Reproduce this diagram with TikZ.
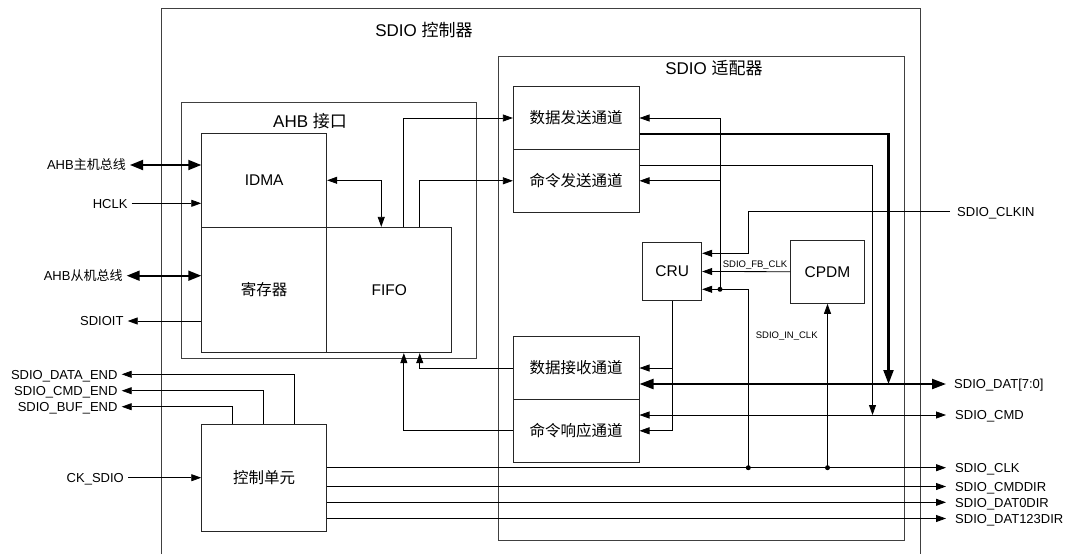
\documentclass[tikz,border=0pt]{standalone}
\usepackage{fontspec}
\setmainfont{Liberation Sans}
\newfontfamily\cjk{Noto Sans CJK SC}
\usetikzlibrary{arrows.meta,calc}
\begin{document}
\begin{tikzpicture}[x=1pt,y=-1pt,
  frame/.style={draw=black!75, line width=0.9pt},
  box/.style={draw=black!85, line width=0.9pt, inner sep=0pt, font=\fontsize{15.5}{18}\selectfont},
  titlefont/.style={font=\fontsize{17}{20}\selectfont, inner sep=0pt},
  lbl/.style={font=\fontsize{13}{15}\selectfont, text height=9.4pt, text depth=0pt, inner ysep=0pt, inner xsep=4pt, anchor=east},
  rlbl/.style={font=\fontsize{13}{15}\selectfont, text height=9.4pt, text depth=0pt, inner ysep=0pt, inner xsep=9pt, anchor=west},
  small/.style={font=\fontsize{9.5}{11}\selectfont, inner sep=1.5pt},
  wire/.style={line width=0.8pt, draw=black},
  arr/.style={wire, -{Triangle[length=10pt,width=7pt]}},
  dbl/.style={wire, {Triangle[length=10pt,width=7pt]}-{Triangle[length=10pt,width=7pt]}},
  tarr/.style={line width=2.2pt, -{Triangle[length=14pt,width=10pt]}},
  tdbl/.style={line width=2.2pt, {Triangle[length=14pt,width=10pt]}-{Triangle[length=14pt,width=10pt]}},
  bdbl/.style={line width=1.8pt, {Triangle[length=13pt,width=10pt]}-{Triangle[length=13pt,width=10pt]}},
  dot/.style={fill=black}
]
\useasboundingbox (0,0) rectangle (1075,554);
\fill[white] (0,0) rectangle (1075,554);

% containers
\draw[frame] (161,554) -- (161,8) -- (920,8) -- (920,554);
\node[titlefont] (ttlctrl) at (424,30) {SDIO {\cjk 控制器}};
\node[frame, minimum width=406pt, minimum height=484pt, inner sep=0pt] (adapter) at (701,298) {};
\node[titlefont] (ttladapt) at (714,68) {SDIO {\cjk 适配器}};
\node[frame, minimum width=295.7pt, minimum height=256pt, inner sep=0pt] (ahb) at (328.85,230.7) {};
\node[titlefont] (ttlahb) at (310,121) {AHB {\cjk 接口}};

% blocks
\node[box, minimum width=125pt, minimum height=94pt] (idma) at (264.2,180.3) {IDMA};
\node[box, minimum width=125pt, minimum height=125.4pt] (reg) at (264.2,290) {\cjk 寄存器};
\node[box, minimum width=125pt, minimum height=125.4pt] (fifo) at (389.2,290) {FIFO};
\node[box, minimum width=125pt, minimum height=107pt] (ctrl) at (264.2,477.8) {\cjk 控制单元};
\node[box, minimum width=125.7pt, minimum height=62.6pt] (dsend) at (576.2,118) {\cjk 数据发送通道};
\node[box, minimum width=125.7pt, minimum height=63pt] (csend) at (576.2,180.8) {\cjk 命令发送通道};
\node[box, minimum width=125.7pt, minimum height=62.6pt] (drecv) at (576.2,368) {\cjk 数据接收通道};
\node[box, minimum width=125.7pt, minimum height=63pt] (cresp) at (576.2,430.8) {\cjk 命令响应通道};
\node[box, minimum width=59pt, minimum height=58.4pt] (cru) at (672.2,271.5) {CRU};
\node[box, minimum width=73.6pt, minimum height=63.3pt] (cpdm) at (827.5,271.7) {CPDM};

% left side signals
\node[lbl] (ahbm) at (130,165) {AHB{\cjk 主机总线}};
\draw[bdbl] (ahbm.east) -- (ahbm.east -| idma.west);
\node[lbl] (hclk) at (131.7,203.3) {HCLK};
\draw[arr] (hclk.east) -- (hclk.east -| idma.west);
\node[lbl] (ahbs) at (126.7,275.7) {AHB{\cjk 从机总线}};
\draw[bdbl] (ahbs.east) -- (ahbs.east -| reg.west);
\node[lbl] (sdioit) at (127.7,321) {SDIOIT};
\draw[arr] (sdioit.east -| reg.west) -- (sdioit.east);
\node[lbl] (dataend) at (121.7,374.3) {SDIO\_DATA\_END};
\draw[arr] ($(ctrl.north west)+(93.6,0)$) |- (dataend.east);
\node[lbl] (cmdend) at (121.7,390.7) {SDIO\_CMD\_END};
\draw[arr] ($(ctrl.north west)+(62.6,0)$) |- (cmdend.east);
\node[lbl] (bufend) at (121.7,406.7) {SDIO\_BUF\_END};
\draw[arr] ($(ctrl.north west)+(31.6,0)$) |- (bufend.east);
\node[lbl] (cksdio) at (128,477.7) {CK\_SDIO};
\draw[arr] (cksdio.east) -- (cksdio.east -| ctrl.west);

% AHB internal
\draw[dbl] (idma.east) -| ($(fifo.north west)+(55,0)$);
\draw[arr] ($(fifo.north west)+(77.6,0)$) |- (dsend.west);
\draw[arr] ($(fifo.north west)+(93.5,0)$) |- (csend.west);
\draw[arr] (drecv.west) -| ($(fifo.south west)+(93.5,0)$);
\draw[arr] (cresp.west) -| ($(fifo.south west)+(77.6,0)$);

% right side labels
\node[rlbl, inner xsep=7pt] (clkin) at (950,211.7) {SDIO\_CLKIN};
\node[rlbl, inner xsep=8pt] (dat) at (946,384) {SDIO\_DAT[7:0]};
\node[rlbl] (cmd) at (946,415) {SDIO\_CMD};
\node[rlbl] (sclk) at (946,467.7) {SDIO\_CLK};
\node[rlbl] (cmddir) at (946,486.5) {SDIO\_CMDDIR};
\node[rlbl] (dat0dir) at (946,502.3) {SDIO\_DAT0DIR};
\node[rlbl] (dat123dir) at (946,518.5) {SDIO\_DAT123DIR};

% junctions
\coordinate (j1) at (748.3,467.7);
\coordinate (j2) at (720,289.3);
\coordinate (k1) at (748.3,211.7);
\coordinate (datbus) at (888.5,384);
\coordinate (cmdbus) at (872.5,415);

% control unit outputs
\draw[arr] (sclk.west -| ctrl.east) -- (sclk.west);
\draw[arr] (cmddir.west -| ctrl.east) -- (cmddir.west);
\draw[arr] (dat0dir.west -| ctrl.east) -- (dat0dir.west);
\draw[arr] (dat123dir.west -| ctrl.east) -- (dat123dir.west);

% clocking
\draw[arr] (j1) |- (cru.east |- j2);
\fill[dot] (j1) circle (2.5pt);
\fill[dot] (j2) circle (2.5pt);
\draw[arr] (j2) |- (dsend.east);
\draw[arr] (csend.east -| j2) -- (csend.east);
\draw[arr] (clkin.west) -- (k1) |- ($(cru.east)+(0,-18.2)$);
\draw[arr] (cpdm.west) -- (cru.east) node[pos=0.4, above, small] {SDIO\_FB\_CLK};
\draw[arr] (cpdm.south |- j1) -- (cpdm.south);
\fill[dot] (cpdm.south |- j1) circle (2.5pt);
\node[small] (inclk) at (786.7,336) {SDIO\_IN\_CLK};
\draw[arr] (cru.south) |- (cresp.east);
\draw[arr] (cru.south |- drecv.east) -- (drecv.east);

% data and command buses
\draw[tarr] ($(dsend.east)+(0,16)$) -| (datbus);
\draw[tdbl] (dat.west -| drecv.east) -- (dat.west);
\draw[arr] ($(csend.east)+(0,-15.8)$) -| (cmdbus);
\draw[dbl] (cmd.west -| cresp.east) -- (cmd.west);
\end{tikzpicture}
\end{document}
